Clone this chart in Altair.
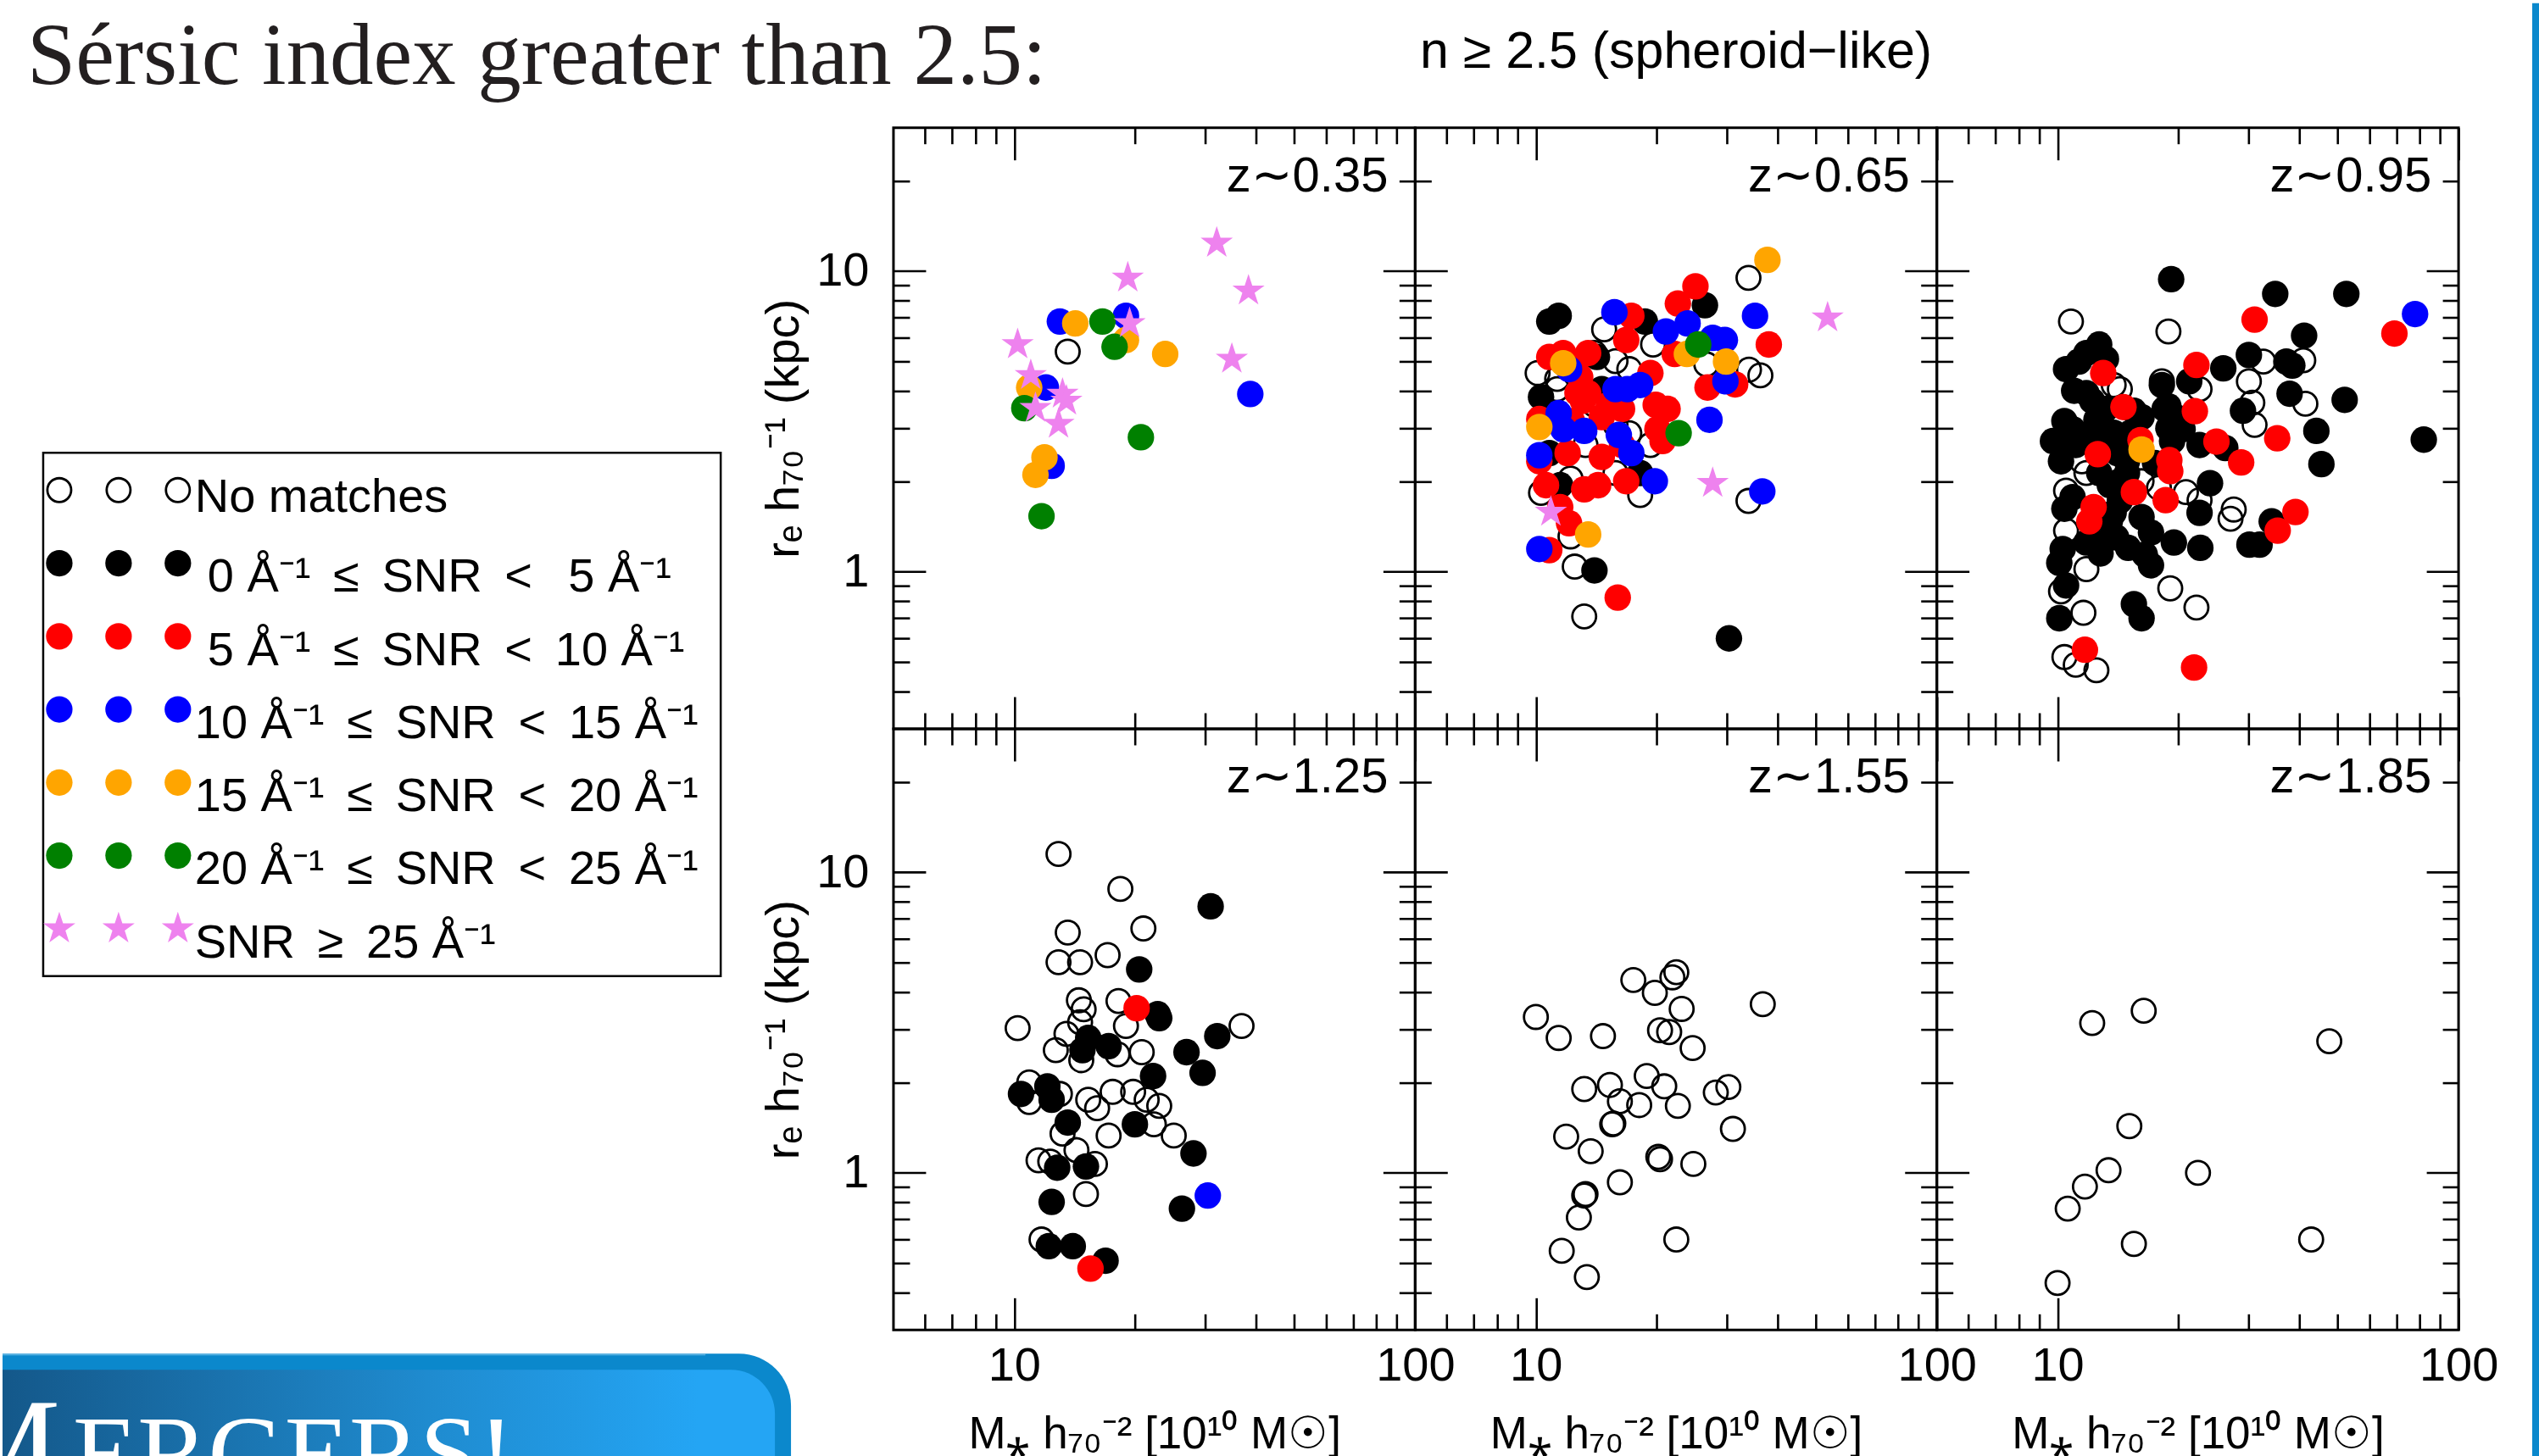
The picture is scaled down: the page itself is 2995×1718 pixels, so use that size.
import altair as alt
import pandas as pd

SANS = "Liberation Sans"
SERIF = "Liberation Serif"

# ---------------- data (stellar mass [1e10 Msun], effective radius [kpc], SNR class) ----------------
# SNR class: 0 no match, 1: 0-5, 2: 5-10, 3: 10-15, 4: 15-20, 5: 20-25, 6: >=25
z035_mass = [13.0, 14.2, 16.6, 19.0, 19.4, 19.0, 17.8, 13.6, 23.8, 10.2,
             19.2, 32.0, 38.4, 34.9, 38.8, 11.0, 12.0, 10.9, 10.6, 11.3,
             13.2, 13.5, 12.9, 20.7, 12.4, 11.9, 11.3, 11.7]
z035_re = [6.8, 6.7, 6.8, 7.1, 6.7, 5.9, 5.6, 5.4, 5.3, 5.7,
           9.5, 12.4, 8.6, 5.1, 3.9, 4.5, 4.1, 4.1, 3.5, 3.5,
           3.9, 3.7, 3.1, 2.8, 2.25, 2.4, 2.1, 1.53]
z035_snr = [3, 4, 5, 3, 6, 4, 5, 0, 4, 6,
            6, 6, 6, 6, 3, 6, 3, 4, 5, 6,
            6, 6, 6, 5, 3, 4, 4, 5]

z065_mass = [37.8, 33.9, 25.0, 26.4, 22.6, 35.2, 53.4, 10.8, 11.4, 15.7,
             17.3, 18.7, 14.8, 16.8, 19.6, 21.1, 23.9, 22.2, 23.8, 25.4,
             27.6, 29.6, 29.8, 38.1, 34.0, 36.3, 26.6, 26.8, 29.7, 31.4,
             27.1, 27.6, 33.9, 36.7, 30.3, 16.0, 13.2, 12.5, 14.0, 10.2,
             10.8, 13.5, 12.1, 10.9, 12.2, 11.5, 10.8, 11.7, 13.5, 11.7,
             12.1, 10.1, 11.3, 14.0, 15.8, 17.1, 14.2, 12.9, 13.5, 14.6,
             15.8, 16.9, 18.2, 19.3, 10.3, 11.3, 13.1, 10.2, 10.2, 11.4,
             11.7, 13.2, 12.3, 15.2, 16.4, 14.0, 19.9, 21.3, 20.1, 22.7,
             20.7, 19.3, 16.1, 17.3, 14.6, 16.4, 17.1, 15.8, 13.3, 10.2,
             10.2, 12.0, 10.8, 10.6, 11.5, 10.3, 12.2, 13.2, 14.3, 15.8,
             16.8, 18.2, 19.8, 18.2, 14.6, 12.7, 12.5]
z065_re = [10.9, 9.5, 8.9, 7.7, 7.8, 7.1, 7.0, 6.8, 7.1, 7.3,
           7.1, 6.8, 6.4, 5.9, 5.7, 6.3, 6.7, 5.3, 5.3, 5.7,
           6.0, 5.9, 5.0, 5.7, 4.7, 4.5, 4.9, 4.1, 4.3, 4.2,
           3.2, 1.97, 1.72, 1.85, 0.60, 0.82, 0.71, 1.04, 1.01, 1.19,
           1.18, 1.33, 1.45, 1.58, 1.31, 1.64, 5.18, 5.34, 5.34, 4.94,
           4.72, 4.58, 4.38, 5.34, 5.02, 4.72, 5.18, 4.44, 3.93, 4.05,
           4.05, 4.05, 4.18, 4.58, 3.81, 4.05, 3.70, 3.22, 3.03, 3.37,
           2.98, 2.94, 3.17, 3.59, 3.48, 3.59, 3.59, 3.48, 2.98, 2.89,
           2.72, 2.64, 2.85, 2.48, 2.41, 2.64, 2.89, 3.08, 2.64, 2.44,
           2.33, 2.48, 2.48, 1.94, 1.94, 1.83, 2.04, 1.88, 1.94, 2.13,
           2.00, 2.13, 2.00, 1.80, 3.27, 3.93, 4.87]
z065_snr = [4, 0, 2, 1, 2, 3, 6, 1, 1, 3,
            2, 1, 0, 2, 0, 3, 3, 2, 4, 5,
            3, 3, 4, 2, 0, 0, 0, 2, 3, 2,
            3, 6, 0, 3, 1, 2, 0, 0, 1, 3,
            2, 4, 2, 6, 0, 2, 2, 2, 2, 4,
            3, 0, 0, 0, 0, 0, 1, 2, 2, 1,
            3, 3, 3, 2, 1, 0, 2, 2, 4, 3,
            3, 3, 2, 2, 2, 0, 2, 2, 2, 5,
            2, 0, 3, 3, 2, 2, 0, 0, 0, 3,
            2, 2, 1, 2, 1, 0, 0, 2, 2, 0,
            2, 1, 3, 0, 2, 2, 2]

z095_mass = [19.2, 34.9, 52.5, 77.9, 69.2, 31.0, 10.8, 18.9, 41.2, 12.7,
             11.8, 10.5, 11.3, 13.2, 13.0, 22.2, 25.9, 30.0, 32.6, 37.2,
             38.5, 41.0, 52.0, 37.9, 41.5, 44.2, 45.5, 81.9, 35.3, 30.0,
             30.6, 31.0, 29.0, 28.7, 24.9, 26.2, 22.6, 24.0, 22.6, 27.5,
             27.0, 34.2, 39.2, 35.4, 30.1, 31.9, 22.7, 19.5, 16.5, 17.1,
             19.1, 22.2, 15.5, 16.2, 21.9, 11.7, 10.4, 11.1, 12.5, 11.6,
             10.1, 10.2, 10.5, 11.8, 10.1, 10.3, 11.8, 12.5, 10.5, 10.4,
             10.9, 10.5, 12.3, 12.0, 13.5, 14.3, 13.8, 15.5, 16.2, 17.1,
             18.6, 20.9, 22.6, 16.2, 12.7, 13.5, 14.3, 14.9, 11.8, 11.5,
             10.2, 9.74, 12.6, 16.1, 16.2, 18.9, 19.3, 18.9, 19.0, 19.1,
             14.6, 16.2, 15.5, 10.4, 10.9, 10.0, 11.8, 12.2, 13.2, 18.2,
             18.5, 18.9, 22.6, 21.3, 22.0, 19.7, 20.5, 18.2, 14.3, 13.8,
             11.1, 13.2, 14.1, 14.9, 11.0, 12.5, 13.8, 12.0, 15.2, 14.0,
             15.0, 12.8, 17.5, 17.9]
z095_re = [9.4, 8.4, 8.4, 7.2, 6.2, 6.9, 6.8, 6.3, 6.1, 5.7,
           5.34, 4.72, 5.0, 5.1, 4.58, 4.87, 4.75, 5.26, 5.0, 5.0,
           4.85, 5.05, 3.73, 3.91, 3.62, 2.94, 2.28, 2.75, 2.78, 4.3,
           3.65, 3.08, 3.43, 2.31, 2.71, 2.58, 2.64, 1.97, 1.57, 1.61,
           1.50, 1.47, 1.58, 1.37, 1.23, 1.23, 1.20, 1.25, 1.14, 1.05,
           0.88, 0.76, 0.78, 0.70, 0.48, 0.55, 0.52, 0.49, 0.47, 0.73,
           0.70, 0.86, 0.90, 1.02, 1.07, 1.19, 1.25, 1.25, 1.37, 1.62,
           1.77, 1.86, 1.64, 1.47, 1.47, 1.72, 1.57, 1.84, 1.52, 1.35,
           1.73, 1.84, 1.73, 2.0, 2.13, 1.94, 2.0, 2.13, 2.13, 2.33,
           2.33, 2.72, 2.46, 2.74, 2.55, 2.27, 2.72, 3.0, 2.35, 2.16,
           3.53, 3.27, 3.43, 3.17, 2.98, 2.72, 3.93, 3.70, 3.48, 4.18,
           3.48, 3.55, 4.05, 4.30, 3.42, 3.27, 2.98, 4.3, 4.05, 4.18,
           2.64, 2.64, 2.48, 2.33, 4.0, 3.2, 2.9, 2.8, 2.9, 1.3,
           1.2, 1.15, 2.3, 1.9]
z095_snr = [1, 1, 1, 3, 2, 2, 0, 0, 1, 1,
            1, 1, 1, 1, 2, 2, 1, 1, 0, 1,
            1, 0, 1, 1, 0, 1, 1, 1, 2, 0,
            0, 0, 1, 2, 2, 1, 1, 1, 1, 0,
            0, 1, 2, 2, 1, 1, 1, 1, 1, 1,
            0, 0, 1, 1, 2, 2, 0, 0, 0, 0,
            1, 0, 1, 0, 1, 1, 1, 1, 0, 1,
            1, 0, 2, 2, 1, 1, 1, 2, 1, 1,
            2, 0, 0, 0, 1, 1, 1, 1, 0, 0,
            1, 1, 2, 2, 4, 1, 1, 1, 2, 2,
            2, 1, 1, 1, 1, 1, 1, 1, 1, 1,
            1, 1, 0, 1, 2, 1, 1, 0, 0, 0,
            1, 1, 1, 1, 1, 1, 1, 1, 1, 1,
            1, 1, 1, 0]

z125_mass = [12.9, 18.4, 30.9, 13.6, 21.0, 12.9, 14.6, 17.1, 20.5, 14.5,
             14.9, 18.2, 20.2, 23.0, 22.8, 36.9, 10.2, 14.6, 13.5, 12.7,
             15.3, 14.8, 17.2, 19.0, 18.1, 20.8, 14.7, 32.1, 26.9, 29.5,
             22.2, 10.9, 10.9, 10.4, 12.1, 12.4, 13.0, 15.3, 16.1, 17.6,
             19.8, 21.4, 23.0, 13.6, 20.0, 13.2, 17.2, 22.3, 25.0, 14.3,
             11.5, 12.3, 15.9, 28.0, 12.8, 15.1, 15.1, 12.4, 26.2, 30.4,
             11.7, 12.2, 14.0, 16.9, 15.5]
z125_re = [11.5, 8.8, 7.7, 6.3, 6.5, 5.02, 5.02, 5.3, 4.75, 3.75,
           3.50, 3.73, 3.53, 3.27, 3.37, 3.08, 3.03, 3.17, 2.90, 2.56,
           2.81, 2.56, 2.64, 3.08, 2.48, 2.52, 2.37, 2.85, 2.52, 2.15,
           2.10, 2.0, 1.72, 1.83, 1.94, 1.75, 1.83, 1.75, 1.64, 1.86,
           1.86, 1.75, 1.67, 1.47, 1.45, 1.35, 1.33, 1.45, 1.33, 1.19,
           1.10, 1.09, 1.07, 1.16, 1.04, 1.05, 0.85, 0.80, 0.76, 0.84,
           0.60, 0.57, 0.57, 0.51, 0.48]
z125_snr = [0, 0, 1, 0, 0, 0, 0, 0, 1, 0,
            0, 0, 2, 1, 1, 0, 0, 0, 0, 0,
            1, 1, 1, 0, 0, 0, 0, 1, 1, 1,
            1, 0, 0, 1, 1, 1, 0, 0, 0, 0,
            0, 0, 0, 1, 1, 0, 0, 0, 0, 0,
            0, 0, 0, 1, 1, 1, 0, 1, 1, 3,
            0, 1, 1, 1, 2]

z155_mass = [10.0, 11.4, 14.7, 17.5, 19.8, 22.4, 21.9, 23.1, 20.4, 21.5,
             24.6, 36.8, 13.2, 15.3, 16.2, 18.1, 18.9, 20.9, 22.6, 28.1,
             30.2, 31.0, 15.6, 15.5, 11.9, 13.7, 20.2, 20.4, 24.7, 16.2,
             13.2, 13.3, 12.8, 22.4, 11.6, 13.4]
z155_re = [3.30, 2.81, 2.85, 4.38, 3.97, 4.65, 4.47, 3.51, 2.98, 2.94,
           2.60, 3.64, 1.90, 1.96, 1.73, 1.68, 2.10, 1.94, 1.67, 1.85,
           1.93, 1.40, 1.46, 1.45, 1.32, 1.18, 1.13, 1.11, 1.07, 0.93,
           0.84, 0.85, 0.71, 0.60, 0.55, 0.45]
z155_snr = [0, 0, 0, 0, 0, 0, 0, 0, 0, 0,
            0, 0, 0, 0, 0, 0, 0, 0, 0, 0,
            0, 0, 0, 0, 0, 0, 0, 0, 0, 0,
            0, 0, 0, 0, 0, 0]

z185_mass = [12.2, 16.4, 47.6, 15.1, 13.4, 22.4, 11.7, 10.6, 15.5, 42.9, 10.0]
z185_re = [3.15, 3.46, 2.74, 1.43, 1.02, 1.00, 0.90, 0.76, 0.58, 0.60, 0.43]
z185_snr = [0, 0, 0, 0, 0, 0, 0, 0, 0, 0, 0]

PANEL_LABELS = ["z\u223c0.35", "z\u223c0.65", "z\u223c0.95", "z\u223c1.25", "z\u223c1.55", "z\u223c1.85"]

X_DOMAIN = [5, 100]
Y_DOMAIN = [0.3, 30]
X_MAJOR = [10, 100]
X_MINOR = [6, 7, 8, 9, 20, 30, 40, 50, 60, 70, 80, 90]
Y_MAJOR = [1, 10]
Y_MINOR = [0.4, 0.5, 0.6, 0.7, 0.8, 0.9, 2, 3, 4, 5, 6, 7, 8, 9, 20]

# legend entries (class, text); rows 1 and 2 start one digit further right in the reference
TS = "\u2009 "  # wider gap around relation signs, as in the original typesetting
LEGEND_CLASS = [0, 1, 2, 3, 4, 5, 6]
LEGEND_LABELS = [
    "No matches",
    "0 \u00c5\u207b\u00b9" + TS + "\u2264" + TS + "SNR" + TS + "<" + TS + "\u00a05 \u00c5\u207b\u00b9",
    "5 \u00c5\u207b\u00b9" + TS + "\u2264" + TS + "SNR" + TS + "<" + TS + "10 \u00c5\u207b\u00b9",
    "10 \u00c5\u207b\u00b9" + TS + "\u2264" + TS + "SNR" + TS + "<" + TS + "15 \u00c5\u207b\u00b9",
    "15 \u00c5\u207b\u00b9" + TS + "\u2264" + TS + "SNR" + TS + "<" + TS + "20 \u00c5\u207b\u00b9",
    "20 \u00c5\u207b\u00b9" + TS + "\u2264" + TS + "SNR" + TS + "<" + TS + "25 \u00c5\u207b\u00b9",
    "SNR" + TS + "\u2265" + TS + "25 \u00c5\u207b\u00b9",
]
MARKER_SLOTS = [1, 2, 3]

FILL_CLASSES = [1, 2, 3, 4, 5]
FILL_COLORS = ["#000000", "#FF0000", "#0000FF", "#FFA500", "#008000"]
STAR_COLOR = "#EE82EE"
STAR = ("M0,-1L0.2245,-0.309L0.951,-0.309L0.363,0.118L0.588,0.809L0,0.382"
        "L-0.588,0.809L-0.363,0.118L-0.951,-0.309L-0.2245,-0.309Z")

TITLE_TEXT = "S\u00e9rsic index greater than 2.5:"
SUBTITLE_TEXT = "n \u2265 2.5 (spheroid\u2212like)"
Y_TITLE = "r\u2091 h\u2087\u2080\u207b\u00b9 (kpc)"
X_TITLE = "M\u204e h\u2087\u2080\u207b\u00b2 [10\u00b9\u2070 M\u2609]"

# ---------------- layout / styling ----------------
LEFT_W, TOP_H, BOTTOM_H, EDGE_W = 1052, 147, 151, 95
PW, PH = 616, 710
MAJOR_LEN, MINOR_LEN, TICK_W = 38, 19, 2.6
OPEN_SIZE, FILL_SIZE, STAR_SIZE = 790, 980, 1600
BLUE = "#0B88CC"


def blank(w, h):
    return alt.Chart(pd.DataFrame({"a": [0]})).mark_point(opacity=0).encode(
        x=alt.value(0), y=alt.value(0)).properties(width=w, height=h)


def make_axis(orient, values, length, show_labels=False, label_expr="",
              label_padding=0, title=None, title_pos=(0, 0), title_baseline="alphabetic",
              title_size=56):
    # inward ticks: the axis is shifted into the plot by the tick length,
    # so the (outward) ticks end exactly on the frame
    kw = dict(orient=orient, values=values, offset=-length, domain=False, grid=False,
              ticks=True, tickSize=length, tickColor="black", tickWidth=TICK_W,
              labels=show_labels, title=title)
    if show_labels:
        kw.update(labelExpr=label_expr, labelPadding=label_padding, labelFont=SANS,
                  labelFontSize=56, labelColor="black", labelOverlap=False, labelFlush=False)
    if title:
        kw.update(titleFont=SANS, titleFontSize=title_size, titleFontWeight="normal",
                  titleColor="black", titleX=title_pos[0], titleY=title_pos[1],
                  titleBaseline=title_baseline)
    return alt.Axis(**kw)


def panel(mass, re, snr, label, col, row):
    df = pd.DataFrame({"mass": mass, "re": re, "snr": snr}).sort_values("snr", kind="stable")
    xs = alt.Scale(type="log", domain=X_DOMAIN, nice=False)
    ys = alt.Scale(type="log", domain=Y_DOMAIN, nice=False)

    if row == 1:
        xb_major = make_axis("bottom", X_MAJOR, MAJOR_LEN, True,
                             "datum.value == 10 ? '10' : '100'", 15, X_TITLE,
                             (PW / 2, 139 + MAJOR_LEN), "alphabetic", 53)
    else:
        xb_major = make_axis("bottom", X_MAJOR, MAJOR_LEN)
    if col == 0:
        yl_major = make_axis("left", Y_MAJOR, MAJOR_LEN, True,
                             "datum.value == 1 ? '1' : '10'", 29, Y_TITLE,
                             (-130 - MAJOR_LEN, PH / 2), "middle")
    else:
        yl_major = make_axis("left", Y_MAJOR, MAJOR_LEN)

    axis_pairs = [
        (xb_major, yl_major),
        (make_axis("bottom", X_MINOR, MINOR_LEN), make_axis("left", Y_MINOR, MINOR_LEN)),
        (make_axis("top", X_MAJOR, MAJOR_LEN), make_axis("right", Y_MAJOR, MAJOR_LEN)),
        (make_axis("top", X_MINOR, MINOR_LEN), make_axis("right", Y_MINOR, MINOR_LEN)),
    ]

    base = alt.Chart(df)
    layers = []
    for ax_x, ax_y in axis_pairs:
        layers.append(base.mark_point(opacity=0).encode(
            x=alt.X("mass:Q", scale=xs, axis=ax_x),
            y=alt.Y("re:Q", scale=ys, axis=ax_y)))

    layers.append(base.transform_filter("datum.snr == 0").mark_point(
        shape="circle", filled=False, color="black", strokeWidth=2.8,
        size=OPEN_SIZE, opacity=1).encode(
        x=alt.X("mass:Q", scale=xs, axis=None),
        y=alt.Y("re:Q", scale=ys, axis=None)))
    layers.append(base.transform_filter("datum.snr >= 1 && datum.snr <= 5").mark_point(
        shape="circle", filled=True, size=FILL_SIZE, opacity=1).encode(
        x=alt.X("mass:Q", scale=xs, axis=None),
        y=alt.Y("re:Q", scale=ys, axis=None),
        color=alt.Color("snr:N", scale=alt.Scale(domain=FILL_CLASSES, range=FILL_COLORS), legend=None)))
    layers.append(base.transform_filter("datum.snr == 6").mark_point(
        shape=STAR, filled=True, color=STAR_COLOR, size=STAR_SIZE, opacity=1).encode(
        x=alt.X("mass:Q", scale=xs, axis=None),
        y=alt.Y("re:Q", scale=ys, axis=None)))
    layers.append(alt.Chart(pd.DataFrame({"t": [label]})).mark_text(
        align="right", baseline="alphabetic", font=SANS, fontSize=58, color="black").encode(
        text="t:N", x=alt.value(PW - 32), y=alt.value(75)))

    return alt.layer(*layers).resolve_axis(x="independent", y="independent").properties(
        width=PW, height=PH, view=alt.ViewBackground(stroke="black", strokeWidth=3))


panels_data = [
    (z035_mass, z035_re, z035_snr), (z065_mass, z065_re, z065_snr), (z095_mass, z095_re, z095_snr),
    (z125_mass, z125_re, z125_snr), (z155_mass, z155_re, z155_snr), (z185_mass, z185_re, z185_snr),
]
panels = [panel(m, r, s, PANEL_LABELS[i], i % 3, i // 3) for i, (m, r, s) in enumerate(panels_data)]

# ---------------- top row ----------------
title_chart = alt.Chart(pd.DataFrame({"t": [TITLE_TEXT]})).mark_text(
    align="left", baseline="alphabetic", font=SERIF, fontSize=103, color="#231F20").encode(
    text="t:N", x=alt.value(29), y=alt.value(95)).properties(width=LEFT_W, height=TOP_H)

subtitle = alt.Chart(pd.DataFrame({"t": [SUBTITLE_TEXT]})).mark_text(
    align="center", baseline="alphabetic", font=SANS, fontSize=61, color="black").encode(
    text="t:N", x=alt.value(3 * PW / 2), y=alt.value(76)).properties(width=PW, height=TOP_H)

edge = alt.Chart(pd.DataFrame({"a": [0]})).mark_rect(color=BLUE).encode(
    x=alt.value(87), x2=alt.value(95), y=alt.value(0),
    y2=alt.value(TOP_H + 2 * PH + BOTTOM_H)).properties(width=EDGE_W, height=TOP_H)

# ---------------- legend (left of the first panel row) ----------------
LEG_TOP = 531 - TOP_H
leg_df = pd.DataFrame({
    "row": [c for c in LEGEND_CLASS for _ in MARKER_SLOTS],
    "slot": [s for _ in LEGEND_CLASS for s in MARKER_SLOTS],
})
leg_txt = pd.DataFrame({"row": LEGEND_CLASS, "label": LEGEND_LABELS})
lx = alt.Scale(domain=[1, 3], range=[67, 207])
ly = alt.Scale(domain=[0, 6], range=[LEG_TOP + 44, LEG_TOP + 562])
leg_box = alt.Chart(pd.DataFrame({"a": [0]})).mark_rect(
    filled=False, color="black", strokeWidth=2.5).encode(
    x=alt.value(48), x2=alt.value(848), y=alt.value(LEG_TOP), y2=alt.value(LEG_TOP + 618))
lbase = alt.Chart(leg_df)
leg_open = lbase.transform_filter("datum.row == 0").mark_point(
    shape="circle", filled=False, color="black", strokeWidth=2.8, size=OPEN_SIZE, opacity=1).encode(
    x=alt.X("slot:Q", scale=lx, axis=None), y=alt.Y("row:Q", scale=ly, axis=None))
leg_fill = lbase.transform_filter("datum.row >= 1 && datum.row <= 5").mark_point(
    shape="circle", filled=True, size=FILL_SIZE, opacity=1).encode(
    x=alt.X("slot:Q", scale=lx, axis=None), y=alt.Y("row:Q", scale=ly, axis=None),
    color=alt.Color("row:N", scale=alt.Scale(domain=FILL_CLASSES, range=FILL_COLORS), legend=None))
leg_star = lbase.transform_filter("datum.row == 6").mark_point(
    shape=STAR, filled=True, color=STAR_COLOR, size=STAR_SIZE, opacity=1).encode(
    x=alt.X("slot:Q", scale=lx, axis=None), y=alt.Y("row:Q", scale=ly, axis=None))
tbase = alt.Chart(leg_txt)
leg_t0 = tbase.transform_filter("datum.row == 0").mark_text(
    align="left", baseline="alphabetic", dy=26, font=SANS, fontSize=56, color="black").encode(
    text="label:N", x=alt.value(227), y=alt.Y("row:Q", scale=ly, axis=None))
leg_t1 = tbase.transform_filter("datum.row == 1 || datum.row == 2").mark_text(
    align="left", baseline="alphabetic", dy=34, font=SANS, fontSize=56, color="black").encode(
    text="label:N", x=alt.value(242), y=alt.Y("row:Q", scale=ly, axis=None))
leg_t2 = tbase.transform_filter("datum.row >= 3").mark_text(
    align="left", baseline="alphabetic", dy=34, font=SANS, fontSize=56, color="black").encode(
    text="label:N", x=alt.value(227), y=alt.Y("row:Q", scale=ly, axis=None))
left1 = alt.layer(leg_box, leg_open, leg_fill, leg_star, leg_t0, leg_t1, leg_t2).properties(
    width=LEFT_W, height=PH)

# ---------------- banner (bottom-left) ----------------
one = pd.DataFrame({"t": ["M"], "u": ["ERGERS!"]})
outer = alt.Chart(one).mark_rect(color=BLUE, cornerRadiusTopRight=100).encode(
    x=alt.value(0), x2=alt.value(931), y=alt.value(28), y2=alt.value(BOTTOM_H))
rim = alt.Chart(one).mark_rect(color="#5CB3E2").encode(
    x=alt.value(0), x2=alt.value(830), y=alt.value(28), y2=alt.value(30))
inner = alt.Chart(one).mark_rect(
    color=alt.LinearGradient(
        gradient="linear",
        stops=[alt.GradientStop(color="#14588A", offset=0),
               alt.GradientStop(color="#1F8BCF", offset=0.55),
               alt.GradientStop(color="#24A5F4", offset=0.9),
               alt.GradientStop(color="#24A5F4", offset=1)],
        x1=0, x2=1, y1=0, y2=0),
    cornerRadiusTopRight=84).encode(
    x=alt.value(0), x2=alt.value(912), y=alt.value(47), y2=alt.value(BOTTOM_H))
m_text = alt.Chart(one).mark_text(
    align="right", baseline="alphabetic", font=SERIF, fontSize=154, color="white", clip=True).encode(
    text="t:N", x=alt.value(68), y=alt.value(188))
rest_text = alt.Chart(one).mark_text(
    align="left", baseline="alphabetic", font=SERIF, fontSize=125, color="white", clip=True).encode(
    text="u:N", x=alt.value(83), y=alt.value(188))
banner = alt.layer(outer, rim, inner, m_text, rest_text).properties(width=LEFT_W, height=BOTTOM_H)

cells = [
    title_chart, subtitle, blank(PW, TOP_H), blank(PW, TOP_H), edge,
    left1, panels[0], panels[1], panels[2], blank(EDGE_W, PH),
    blank(LEFT_W, PH), panels[3], panels[4], panels[5], blank(EDGE_W, PH),
    banner,
]

chart = alt.concat(*cells, columns=5, spacing=0, bounds="flush", align="each").properties(
    padding=0).configure(background="white").configure_view(stroke="transparent", strokeWidth=0)

chart.save("out.html", embed_options={"renderer": "svg", "actions": False})
